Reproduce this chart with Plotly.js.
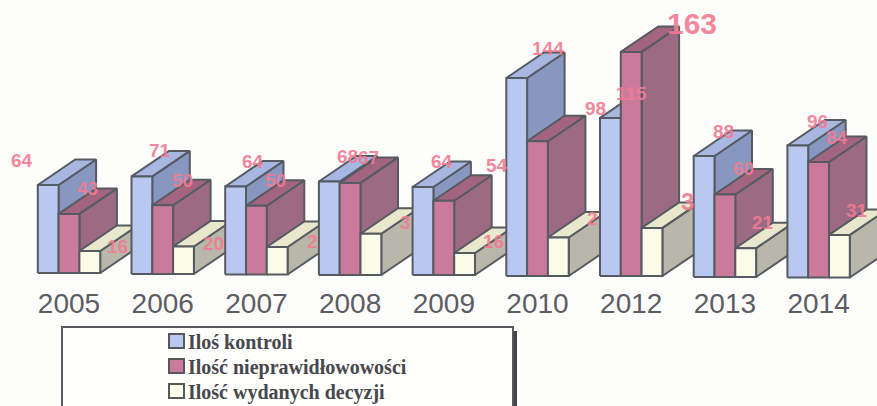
<!DOCTYPE html>
<html><head><meta charset="utf-8">
<script src="https://cdn.plot.ly/plotly-3.0.1.min.js"></script>
<style>html,body{margin:0;padding:0;background:#fdfdfc}</style></head>
<body><div id="chart" style="width:877px;height:406px"></div>
<script>
// ---- data ----
const years = ["2005","2006","2007","2008","2009","2010","2012","2013","2014"];
const kontroli = [64,71,64,68,64,144,115,88,96];
const nieprawidlowosci = [43,50,50,67,54,98,163,60,84];
const decyzje = [16,20,20,30,16,28,35,21,31];
const seriesNames = ["Iloś kontroli","Ilość nieprawidłowowości","Ilość wydanych decyzji"];
// printed value labels (some are cut off in the source picture)
const labelsKontroli = ["64","71","64","68","64","144","115","88","96"];
const labelsNieprawidlowosci = ["43","50","50","67","54","98","163","60","84"];
const labelsDecyzje = ["16","20","2","3","16","2","3","21","31"];

// ---- layout constants ----
const W=877,H=406,plotBottom=284;
const pxX0=69,pxStep=93.7,pxPerVal=1.375,pxBase=275;
const groupBaselinePx=[273,274,274.5,275,275,276,276,277,277.5];
const labelPos=[
 [[22,160],[160,150],[253,161],[347,156],[442,161],[548,48],[631,93],[723,131],[817,121]],
 [[87,188],[182,180],[275,180],[368,157],[497,165],[595,108],[692,23],[743,168],[837,137]],
 [[117,246],[213,243],[312,241],[405,222],[493,241],[592,218],[687,201],[763,222],[857,210]]
];
const toX=p=>(p-pxX0)/pxStep, toY=p=>(pxBase-p)/pxPerVal;
const barW=20.8/pxStep, depthX=37.5/pxStep, depthY=25.5/pxPerVal;
const faces=[
 {front:"#b8c8f0",top:"#a8b6e2",side:"#8897c0"},
 {front:"#cb7a9c",top:"#a2647f",side:"#9c6a83"},
 {front:"#fbfce8",top:"#e9e8cd",side:"#b9b7aa"}
];
const edge="#565b62";
const values=[kontroli,nieprawidlowosci,decyzje];
const labelTexts=[labelsKontroli,labelsNieprawidlowosci,labelsDecyzje];

const traces=[];
function poly(xs,ys,fill){
  traces.push({type:"scatter",mode:"lines",x:xs.concat(xs[0]),y:ys.concat(ys[0]),fill:"toself",
    fillcolor:fill,line:{color:edge,width:2},showlegend:false,hoverinfo:"skip"});
}
years.forEach((yr,g)=>{
  const base=toY(groupBaselinePx[g]);
  values.forEach((vals,s)=>{
    const xL=g+(s-1.5)*barW, xR=xL+barW, yT=base+vals[g];
    poly([xR,xR+depthX,xR+depthX,xR],[base,base+depthY,yT+depthY,yT],faces[s].side);
    poly([xL,xR,xR+depthX,xL+depthX],[yT,yT,yT+depthY,yT+depthY],faces[s].top);
    poly([xL,xR,xR,xL],[base,base,yT,yT],faces[s].front);
  });
});

const annotations=[];
labelTexts.forEach((arr,s)=>arr.forEach((t,g)=>{
  const big=(t==="163"), mid=(g===6&&s===2);
  annotations.push({xref:"x",yref:"y",x:toX(labelPos[s][g][0]),y:toY(labelPos[s][g][1]),text:t,showarrow:false,
    xanchor:"center",yanchor:"middle",opacity:.9,
    font:{family:"Liberation Sans",size:big?30:(mid?24:19),color:"#f07c92",weight:700}});
}));

const py=p=>(plotBottom-p)/plotBottom, px=p=>p/W;
const shapes=[
 {type:"rect",xref:"paper",yref:"paper",x0:px(513),x1:px(517),y0:py(406),y1:py(331),fillcolor:"#444448",line:{width:0}},
 {type:"rect",xref:"paper",yref:"paper",x0:px(62),x1:px(513),y0:py(408),y1:py(327),fillcolor:"#fefefd",line:{color:"#55585c",width:2}}
];
const legendRows=[341,366,391];
seriesNames.forEach((n,i)=>{
  shapes.push({type:"rect",xref:"paper",yref:"paper",x0:px(169),x1:px(184),y0:py(legendRows[i]+7),y1:py(legendRows[i]-7),
    fillcolor:faces[i].front,line:{color:"#55585c",width:2}});
  annotations.push({xref:"paper",yref:"paper",x:px(186),y:py(legendRows[i]+1),text:n,showarrow:false,xanchor:"left",yanchor:"middle",
    font:{family:"Liberation Serif",size:20,color:"#47474c",weight:700}});
});

Plotly.newPlot("chart",traces,{
  width:W,height:H,margin:{l:0,r:0,t:0,b:H-plotBottom,pad:0},
  paper_bgcolor:"#fdfdfc",plot_bgcolor:"rgba(0,0,0,0)",showlegend:false,
  xaxis:{range:[toX(0),toX(W)],tickmode:"array",tickvals:years.map((_,i)=>i),ticktext:years,
    showgrid:false,zeroline:false,showline:false,ticks:"",fixedrange:true,
    tickfont:{family:"Liberation Sans",size:28,color:"#5c5c64"}},
  yaxis:{range:[toY(plotBottom),toY(0)],visible:false,fixedrange:true},
  shapes,annotations
},{displayModeBar:false,staticPlot:true});
</script></body></html>
